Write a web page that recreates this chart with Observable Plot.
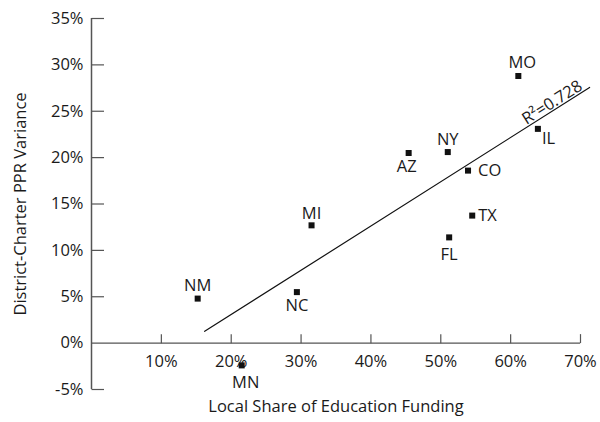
<!DOCTYPE html>
<html>
<head>
<meta charset="utf-8">
<script src="https://cdn.jsdelivr.net/npm/d3@7"></script>
<script src="https://cdn.jsdelivr.net/npm/@observablehq/plot@0.6"></script>
<style>
  html, body { margin: 0; padding: 0; background: #fff; }
  #chart { width: 600px; height: 422px; }
</style>
</head>
<body>
<div id="chart"></div>
<script>
// ---- data ----
const states = ["NM", "MN", "NC", "MI", "AZ", "NY", "CO", "MO", "IL", "TX", "FL"];
const localShare = [0.152, 0.215, 0.294, 0.315, 0.454, 0.510, 0.539, 0.611, 0.639, 0.545, 0.512];
const pprVariance = [0.048, -0.024, 0.055, 0.127, 0.205, 0.206, 0.186, 0.288, 0.231, 0.1375, 0.114];
const xTicks = [0.1, 0.2, 0.3, 0.4, 0.5, 0.6, 0.7];
const yTicks = [-0.05, 0, 0.05, 0.1, 0.15, 0.2, 0.25, 0.3, 0.35];
const trendExtent = [0.162, 0.713];
const rSquaredLabel = "R\u00B2=0.728";
const xTitle = "Local Share of Education Funding";
const yTitle = "District-Charter PPR Variance";

// ---- label placement (style) ----
const labelPlace = {
  NM: [0, -13], MN: [4, 17], NC: [0, 14], MI: [0, -12], AZ: [-2, 14],
  NY: [0, -12], CO: [10, 0, "start"], MO: [4, -13], IL: [4, 10, "start"],
  TX: [6, 0, "start"], FL: [0, 17]
};

const data = states.map((s, i) => ({state: s, x: localShare[i], y: pprVariance[i]}));

// least-squares trendline
const mx = d3.mean(data, d => d.x), my = d3.mean(data, d => d.y);
const slope = d3.sum(data, d => (d.x - mx) * (d.y - my)) / d3.sum(data, d => (d.x - mx) ** 2);
const intercept = my - slope * mx;
const trend = trendExtent.map(x => ({x, y: intercept + slope * x}));
const rLabelX = 0.662;
const rLabel = [{x: rLabelX, y: intercept + slope * rLabelX, text: rSquaredLabel}];

const pct = d => Math.round(d * 100) + "%";

// custom tick symbols
const tickRight = {draw(ctx, size) { const l = Math.sqrt(size / Math.PI); ctx.moveTo(0, 0); ctx.lineTo(l, 0); }};
const tickUp = {draw(ctx, size) { const l = Math.sqrt(size / Math.PI); ctx.moveTo(0, 0); ctx.lineTo(0, -l); }};

const axisColor = "#555";
const textColor = "#1a1a1a";
const fs = 16.5;

const labelMarks = [];
for (const d of data) {
  const p = labelPlace[d.state];
  labelMarks.push(Plot.text([d], {
    x: "x", y: "y", text: "state", dx: p[0], dy: p[1],
    textAnchor: p[2] || "middle", fill: textColor, fontSize: fs
  }));
}

const chart = Plot.plot({
  width: 600,
  height: 422,
  marginLeft: 91,
  marginRight: 20,
  marginTop: 18,
  marginBottom: 33,
  x: {domain: [0, 0.7], axis: null},
  y: {domain: [-0.05, 0.35], axis: null},
  style: {fontFamily: "'Open Sans', sans-serif", fontSize: fs + "px", background: "#fff", color: textColor},
  marks: [
    // y axis line
    Plot.ruleX([0], {y1: d3.min(yTicks), y2: d3.max(yTicks), stroke: axisColor, strokeWidth: 1.5}),
    // y ticks
    Plot.dot(yTicks.filter(d => d !== 0), {x: 0, y: d => d, symbol: tickRight, r: 12.5, stroke: axisColor, strokeWidth: 1.2, fill: "none"}),
    // y tick labels
    Plot.text(yTicks, {x: 0, y: d => d, text: pct, textAnchor: "end", dx: -8, fill: textColor, fontSize: fs}),
    // x axis line at zero
    Plot.ruleY([0], {x1: 0, x2: d3.max(xTicks), stroke: axisColor, strokeWidth: 1.2}),
    // x ticks
    Plot.dot(xTicks, {x: d => d, y: 0, symbol: tickUp, r: 9, stroke: axisColor, strokeWidth: 1.2, fill: "none"}),
    // x tick labels
    Plot.text(xTicks, {x: d => d, y: 0, text: pct, dy: 19, fill: textColor, fontSize: fs}),
    // trendline
    Plot.line(trend, {x: "x", y: "y", stroke: "#111", strokeWidth: 1.2, clip: false}),
    Plot.text(rLabel, {x: "x", y: "y", text: "text", rotate: -32.3, lineAnchor: "bottom", dx: 1, dy: -3, fill: textColor, fontSize: fs}),
    // points
    Plot.dot(data, {x: "x", y: "y", symbol: "square", r: 3.4, fill: "#111", stroke: "none"}),
    ...labelMarks,
    // axis titles
    Plot.text([xTitle], {frameAnchor: "bottom", dy: 22, fill: textColor, fontSize: fs}),
    Plot.text([yTitle], {frameAnchor: "left", textAnchor: "middle", dx: -71, rotate: -90, fill: textColor, fontSize: fs})
  ]
});

document.getElementById("chart").appendChild(chart);
</script>
</body>
</html>
